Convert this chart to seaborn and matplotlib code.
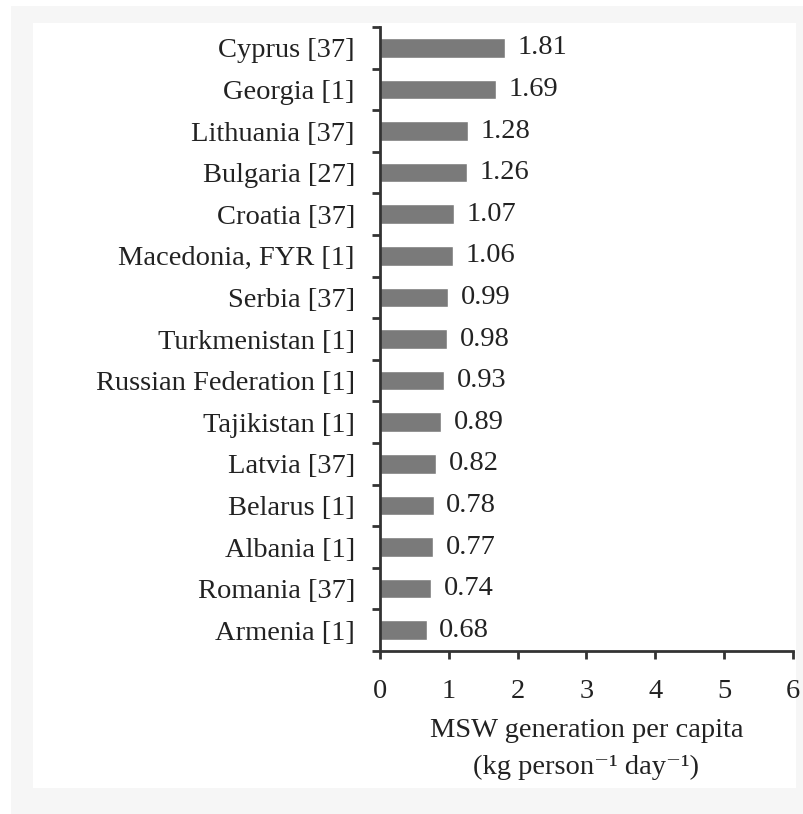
import matplotlib
matplotlib.use("Agg")
import matplotlib.pyplot as plt
from matplotlib.patches import Rectangle
import seaborn as sns
import pandas as pd

countries = ["Cyprus [37]", "Georgia [1]", "Lithuania [37]", "Bulgaria [27]",
             "Croatia [37]", "Macedonia, FYR [1]", "Serbia [37]", "Turkmenistan [1]",
             "Russian Federation [1]", "Tajikistan [1]", "Latvia [37]", "Belarus [1]",
             "Albania [1]", "Romania [37]", "Armenia [1]"]
msw = [1.81, 1.69, 1.28, 1.26, 1.07, 1.06, 0.99, 0.98, 0.93, 0.89, 0.82, 0.78,
       0.77, 0.74, 0.68]
xticks = [0, 1, 2, 3, 4, 5, 6]

df = pd.DataFrame({"country": countries, "msw": msw})

sns.set_style("ticks")
plt.rcParams['font.family'] = ['Liberation Serif', 'DejaVu Serif']

fs = 20.5
fig = plt.figure(figsize=(8.04, 8.14), dpi=100)
fig.patch.set_facecolor("white")
# light grey frame round the picture
fig.patches.append(Rectangle((0.0137, 0), 0.9863, 0.9926, transform=fig.transFigure,
                             facecolor="#f6f6f6", edgecolor="none", zorder=-2))
fig.patches.append(Rectangle((0.041, 0.0319), 0.949, 0.9398, transform=fig.transFigure,
                             facecolor="white", edgecolor="none", zorder=-1))

ax = fig.add_axes([0.4726, 0.2002, 0.5137, 0.7666])
ax.patch.set_alpha(0)
sns.barplot(data=df, y="country", x="msw", orient="h", color="#7a7a7a",
            saturation=1, width=0.47, ax=ax)
ax.bar_label(ax.containers[0], labels=["%.2f" % v for v in msw], padding=9,
             fontsize=fs, color="#222222")

ax.set_xlim(0, 6)
ax.set_ylim(len(countries) - 0.5, -0.5)
ax.set_xticks(xticks)
ax.set_xticklabels([str(t) for t in xticks], fontsize=fs, color="#222222")
ax.tick_params(axis="y", which="major", length=0, labelsize=fs, labelcolor="#222222", pad=18)
ax.set_yticks([i - 0.5 for i in range(len(countries) + 1)], minor=True)
ax.tick_params(axis="y", which="minor", length=6, width=2, color="#333333", direction="out")
ax.tick_params(axis="x", length=6, width=2, color="#333333", direction="out", pad=14)

sns.despine(ax=ax)
for s in ["left", "bottom"]:
    ax.spines[s].set_linewidth(2)
    ax.spines[s].set_color("#333333")

ax.set_ylabel("")
ax.set_xlabel("MSW generation per capita\n(kg person\u207b\u00b9 day\u207b\u00b9)",
              fontsize=fs, color="#222222", linespacing=1.65, labelpad=10)

plt.savefig("out.png", dpi=100)
